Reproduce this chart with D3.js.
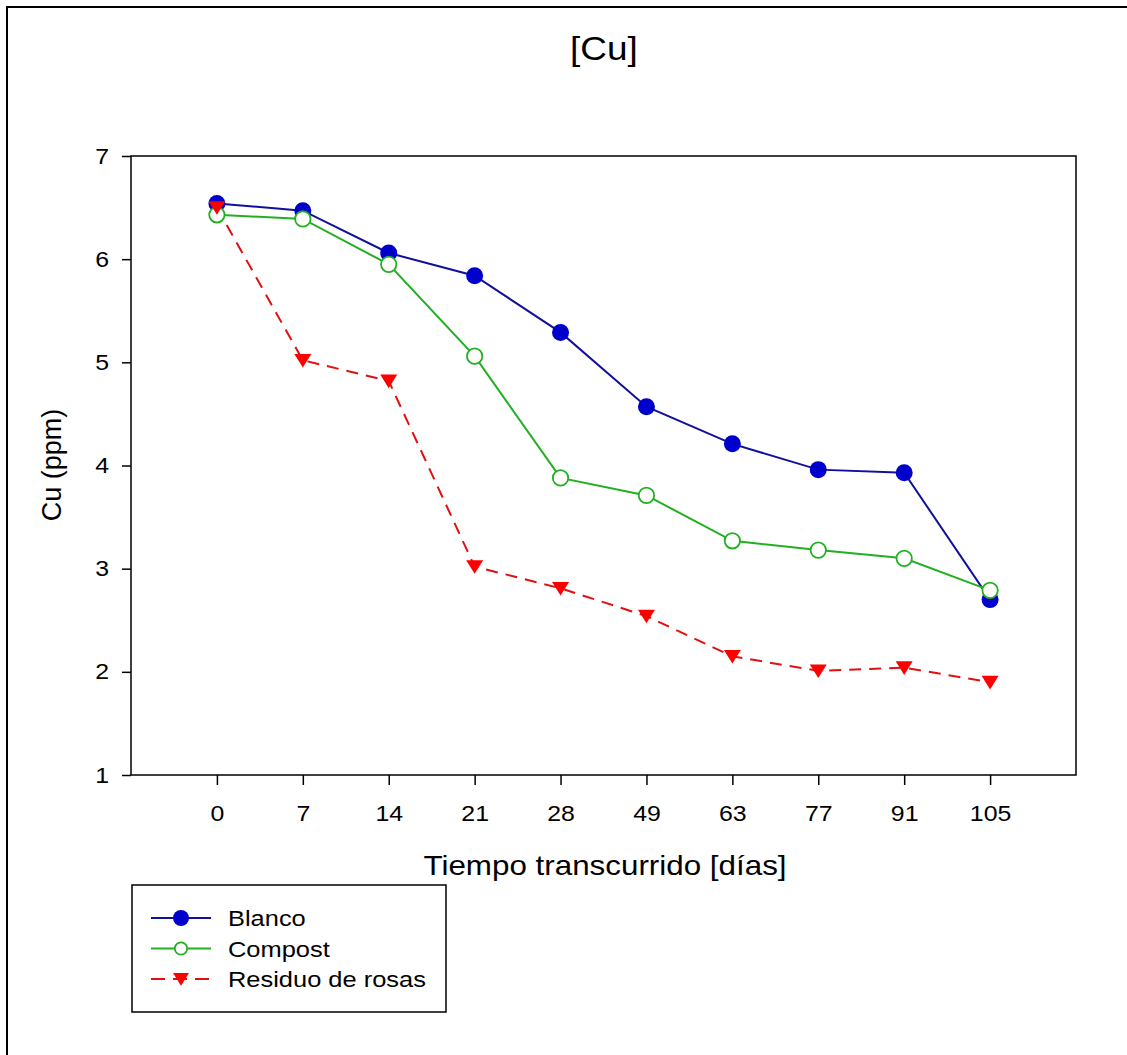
<!DOCTYPE html>
<html>
<head>
<meta charset="utf-8">
<script src="https://cdn.jsdelivr.net/npm/d3@7"></script>
<style>
  html, body { margin: 0; padding: 0; background: #fff; overflow: hidden; }
  svg { display: block; }
  text { font-family: Arial, "Liberation Sans", sans-serif; fill: #000; }
</style>
</head>
<body>
<div id="area"></div>
<script>
'use strict';

// chart data
const days = ["0", "7", "14", "21", "28", "49", "63", "77", "91", "105"];
const blanco = [6.54, 6.47, 6.06, 5.84, 5.29, 4.57, 4.21, 3.96, 3.93, 2.70];
const compost = [6.43, 6.39, 5.95, 5.06, 3.88, 3.71, 3.27, 3.18, 3.10, 2.79];
const residuo = [6.50, 5.02, 4.82, 3.02, 2.81, 2.54, 2.15, 2.01, 2.04, 1.90];
const yTicks = [1, 2, 3, 4, 5, 6, 7];

const W = 1127, H = 1055;
const svg = d3.select('#area').append('svg').attr('width', W).attr('height', H);

// the original picture is a bit wider than tall, so text is stretched sideways
function widen(sel, k) {
  sel.each(function () {
    const len = this.getComputedTextLength();
    d3.select(this).attr('textLength', len * k).attr('lengthAdjust', 'spacingAndGlyphs');
  });
}

// outer frame (right/bottom edges fall off the picture)
svg.append('path')
  .attr('d', `M7,${H} L7,7 L${W},7`)
  .attr('fill', 'none').attr('stroke', '#000').attr('stroke-width', 2);

const plot = { left: 131, top: 156, right: 1076, bottom: 775 };

const x = d3.scalePoint().domain(days).range([plot.left, plot.right]).padding(1);
const y = d3.scaleLinear().domain([1, 7]).range([plot.bottom, plot.top]);

// plot frame
svg.append('rect')
  .attr('x', plot.left).attr('y', plot.top)
  .attr('width', plot.right - plot.left).attr('height', plot.bottom - plot.top)
  .attr('fill', 'none').attr('stroke', '#000').attr('stroke-width', 1.5);

const xAxis = svg.append('g')
  .attr('transform', `translate(0,${plot.bottom})`)
  .call(d3.axisBottom(x).tickSizeInner(10).tickSizeOuter(0).tickPadding(20));
const yAxis = svg.append('g')
  .attr('transform', `translate(${plot.left},0)`)
  .call(d3.axisLeft(y).tickValues(yTicks).tickFormat(d3.format('d')).tickSizeInner(9).tickSizeOuter(0).tickPadding(13));

[xAxis, yAxis].forEach(function (g) {
  g.select('.domain').remove();
  g.selectAll('line').attr('stroke', '#000').attr('stroke-width', 1.5);
  g.selectAll('text').style('font-size', '22px').style('font-family', 'Arial, "Liberation Sans", sans-serif').attr('fill', '#000');
  widen(g.selectAll('text'), 1.13);
});

// titles
const title = svg.append('text').attr('x', 604).attr('y', 60).attr('text-anchor', 'middle')
  .style('font-size', '33px').text('[Cu]');
const xTitle = svg.append('text').attr('x', 605).attr('y', 875).attr('text-anchor', 'middle')
  .style('font-size', '28px').text('Tiempo transcurrido [días]');
svg.append('text')
  .attr('transform', 'translate(61,465) rotate(-90)')
  .attr('text-anchor', 'middle')
  .style('font-size', '27px').text('Cu (ppm)');
widen(title, 1.12);
widen(xTitle, 1.12);

const series = [
  { name: 'Blanco', values: blanco, color: '#10109c', fill: '#0000cc', marker: 'dot', dash: null },
  { name: 'Compost', values: compost, color: '#22b022', fill: '#22b022', marker: 'ring', dash: null },
  { name: 'Residuo de rosas', values: residuo, color: '#e01010', fill: '#ff0000', marker: 'tri', dash: '12,8' }
];

const line = d3.line()
  .x(function (d, i) { return x(days[i]); })
  .y(function (d) { return y(d); });

function drawMarker(g, kind, cx, cy, color, r) {
  if (kind === 'dot') {
    g.append('circle').attr('cx', cx).attr('cy', cy).attr('r', r)
      .attr('fill', color);
  } else if (kind === 'ring') {
    g.append('circle').attr('cx', cx).attr('cy', cy).attr('r', r - 0.8)
      .attr('fill', '#fff').attr('stroke', color).attr('stroke-width', 1.8);
  } else {
    const s = r * 1.0;
    g.append('path')
      .attr('d', `M${cx - s},${cy - s * 0.75} L${cx + s},${cy - s * 0.75} L${cx},${cy + s * 0.85} Z`)
      .attr('fill', color);
  }
}

// draw lines first, then markers on top
series.forEach(function (s) {
  svg.append('path')
    .datum(s.values)
    .attr('d', line)
    .attr('fill', 'none')
    .attr('stroke', s.color)
    .attr('stroke-width', 2)
    .attr('stroke-dasharray', s.dash);
});
series.forEach(function (s) {
  const g = svg.append('g');
  s.values.forEach(function (v, i) {
    drawMarker(g, s.marker, x(days[i]), y(v), s.fill, 8.5);
  });
});

// legend
const legend = svg.append('g');
legend.append('rect')
  .attr('x', 132).attr('y', 885).attr('width', 314).attr('height', 127)
  .attr('fill', '#fff').attr('stroke', '#000').attr('stroke-width', 1.5);
series.forEach(function (s, i) {
  const ly = 918 + i * 30.5;
  legend.append('line')
    .attr('x1', 151).attr('x2', 211).attr('y1', ly).attr('y2', ly)
    .attr('stroke', s.color).attr('stroke-width', 2)
    .attr('stroke-dasharray', s.dash ? '14,8' : null);
  drawMarker(legend, s.marker, 181, ly, s.fill, s.marker === 'ring' ? 7 : 8);
  const t = legend.append('text')
    .attr('x', 228).attr('y', ly + 8)
    .style('font-size', '22.5px').text(s.name);
  widen(t, 1.13);
});
</script>
</body>
</html>
